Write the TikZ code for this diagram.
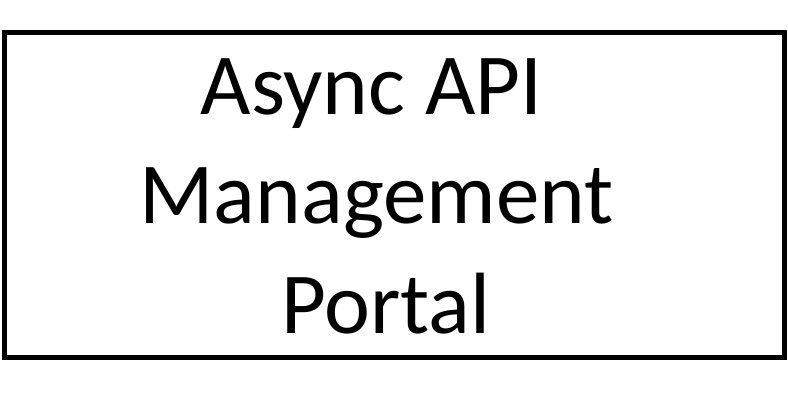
\documentclass[tikz,border=0pt]{standalone}
\usepackage{fontspec}
\setmainfont{Carlito}
\usetikzlibrary{positioning}

\begin{document}
\begin{tikzpicture}[x=1pt, y=-1pt,
		portalbox/.style={draw=black, line width=5pt, minimum width=780pt, minimum height=325pt, inner sep=0pt},
		portalline/.style={anchor=base, inner sep=0pt, font=\fontsize{87}{109}\selectfont}
		]
	\useasboundingbox (0,0) rectangle (788,417);

	\node[portalbox] (box) at (394.5,195) {};
	% the three lines of the title
	\node[portalline] (async) at (371.5,115) {Async API};
	\node[portalline] (mgmt) at (376.5,223) {Management};
	\node[portalline] (portal) at (386,333) {Portal};

\end{tikzpicture}
\end{document}
